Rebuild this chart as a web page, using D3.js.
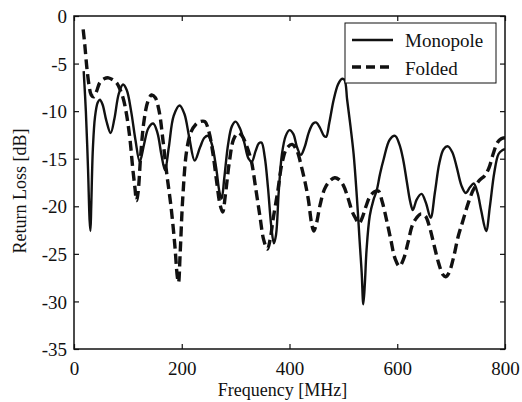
<!DOCTYPE html>
<html><head><meta charset="utf-8">
<script src="https://cdn.jsdelivr.net/npm/d3@7"></script>
<style>
body{margin:0;background:#fff;}
text{font-family:"Liberation Serif","Times New Roman",serif;fill:#111;}
</style></head>
<body><svg id="c" width="522" height="402"></svg>
<script>
const xTicks = [0, 200, 400, 600, 800];
const yTicks = [0, -5, -10, -15, -20, -25, -30, -35];
const seriesNames = ["Monopole", "Folded"];

const monoFreq = [18,22,26,29,30.5,32,35,39,44,48,53,60,68,75,83,91,98,106,114,122,130,138,147,155,162,169,176,185,196,205,214,224,234,242,249,256,264,270,274,279,286,293,300,308,316,324,330,337,343,348,354,360,366,371,375,380,386,393,400,407,414,421,428,436,444,450,457,464,468,474,482,490,497,502,507,513,519,525,530,534,537,540,543,549,556,562,568,575,586,596,604,611,618,624,629,636,645,653,662,670,678,686,694,702,710,719,727,735,742,749,756,765,772,780,788,795,800];
const monoRL = [-5.8,-10,-16,-21.5,-22.6,-20,-14,-10.6,-9.1,-8.8,-9.3,-11,-12.3,-10.8,-8.2,-7.2,-7.8,-10,-13,-15.3,-13.5,-11.8,-11.3,-12.3,-14.5,-16.2,-13.8,-10.5,-9.4,-10.3,-12.8,-15.2,-13.8,-12.8,-12.6,-13.5,-16,-18.5,-19.2,-17,-13.5,-11.6,-11.1,-11.8,-13.3,-15,-15.3,-14.2,-13.4,-13.3,-14.8,-18,-22,-23.9,-23,-18.5,-14.5,-12.6,-12.0,-12.4,-13.8,-14.6,-13.8,-12.2,-11.3,-11.2,-11.8,-12.6,-12.7,-11.2,-8.8,-7.2,-6.6,-6.7,-8.8,-11.5,-14.5,-19,-23.5,-27,-30.3,-28,-24.6,-21,-19.3,-18.3,-16.6,-15,-13.0,-12.6,-13.5,-15.1,-17.5,-19.5,-20.4,-19.3,-18.7,-19.6,-21.2,-18.5,-15.5,-14,-13.7,-14.3,-15.8,-17.8,-18.6,-18,-17.6,-18.6,-20.5,-22.6,-20,-16.5,-14.5,-14.1,-14];

const foldFreq = [17,20,24,28,32,37,42,48,56,64,72,80,86,92,98,104,109,113,116,119,124,130,137,144,151,158,165,172,180,187,192,194,197,202,209,217,226,234,243,251,258,265,271,276,281,288,296,304,312,320,329,337,345,352,359,364,370,378,386,395,405,414,422,429,435,441,445,450,457,465,474,484,492,500,509,516,522,529,535,542,549,557,565,572,580,588,596,604,612,620,628,636,644,652,660,668,677,685,690,696,704,713,722,731,741,752,762,770,778,786,793,800];
const foldRL = [-1.4,-3,-5.5,-7.3,-8.3,-8.5,-7.9,-7.0,-6.6,-6.5,-6.7,-7.1,-7.8,-8.8,-10.5,-13,-16,-18,-19.4,-18.5,-14.5,-11,-9,-8.3,-8.6,-10,-13,-16.5,-20,-24,-27.5,-28,-25,-19,-14.2,-12.2,-11.4,-11.1,-11.1,-12.3,-14.5,-17.5,-19.8,-20.6,-18.8,-15.5,-13,-12.3,-12.6,-13.6,-15.2,-18,-21,-23.5,-24.5,-23.5,-21.2,-18.5,-15.5,-13.9,-13.5,-14.2,-15.8,-17.5,-19.3,-21.8,-22.6,-21.8,-19.8,-18.2,-17.4,-17.0,-17.2,-17.8,-19.2,-20.5,-21.2,-21.8,-21.2,-20,-19.0,-18.5,-18.4,-19.5,-21.4,-23.5,-25.5,-26.3,-25.5,-23.8,-22,-21.2,-20.8,-21.0,-22.2,-24,-26,-27.2,-27.4,-27,-25.5,-23.2,-21.5,-19.8,-18.3,-17.3,-16.8,-16,-14.5,-13.3,-12.9,-12.8];

const L = 74, R = 505, T = 16, B = 349;
const svg = d3.select("#c");
const x = d3.scaleLinear().domain([0, 800]).range([L, R]);
const y = d3.scaleLinear().domain([-35, 0]).range([B, T]);

svg.append("defs").append("clipPath").attr("id","clip")
  .append("rect").attr("x",L).attr("y",T).attr("width",R-L).attr("height",B-T);

const line = d3.line().x(d=>x(d[0])).y(d=>y(d[1])).curve(d3.curveCatmullRom.alpha(0.5));
const mono = monoFreq.map((f,i)=>[f, monoRL[i]]);
const fold = foldFreq.map((f,i)=>[f, foldRL[i]]);

const g = svg.append("g").attr("clip-path","url(#clip)");
g.append("path").attr("d", line(fold)).attr("fill","none").attr("stroke","#111")
  .attr("stroke-width",3.4).attr("stroke-dasharray","10,5");
g.append("path").attr("d", line(mono)).attr("fill","none").attr("stroke","#111")
  .attr("stroke-width",2.4);

// axes
function style(sel){ sel.select(".domain").remove(); sel.selectAll("line").attr("stroke","#111").attr("stroke-width",1.2); sel.selectAll("text").style("font-size","19px").attr("fill","#111"); }
const ax = svg.append("g").attr("transform",`translate(0,${B})`)
  .call(d3.axisBottom(x).tickValues(xTicks).tickSize(-5).tickFormat(d3.format("d")));
style(ax); ax.selectAll("text").attr("y",26).attr("dy",0);
const axT = svg.append("g").attr("transform",`translate(0,${T})`)
  .call(d3.axisTop(x).tickValues(xTicks).tickSize(-5).tickFormat(""));
style(axT);
const ay = svg.append("g").attr("transform",`translate(${L},0)`)
  .call(d3.axisLeft(y).tickValues(yTicks).tickSize(-5).tickFormat(d=>d3.format("d")(d).replace("−","-")));
style(ay); ay.selectAll("text").attr("x",-7).attr("dy","0.35em");
const ayR = svg.append("g").attr("transform",`translate(${R},0)`)
  .call(d3.axisRight(y).tickValues(yTicks).tickSize(-5).tickFormat(""));
style(ayR);

svg.append("rect").attr("x",L).attr("y",T).attr("width",R-L).attr("height",B-T)
  .attr("fill","none").attr("stroke","#111").attr("stroke-width",1.5);

svg.append("text").attr("x",(L+R)/2-7).attr("y",396).attr("text-anchor","middle")
  .style("font-size","18px").text("Frequency [MHz]");
svg.append("text").attr("transform","translate(26,191) rotate(-90)").attr("text-anchor","middle")
  .style("font-size","18px").text("Return Loss [dB]");

// legend
const lg = svg.append("g");
lg.append("rect").attr("x",345).attr("y",23).attr("width",151).attr("height",60)
  .attr("fill","#fff").attr("stroke","#111").attr("stroke-width",1);
lg.append("line").attr("x1",352).attr("x2",393).attr("y1",40).attr("y2",40)
  .attr("stroke","#111").attr("stroke-width",2.4);
lg.append("line").attr("x1",352).attr("x2",393).attr("y1",67).attr("y2",67)
  .attr("stroke","#111").attr("stroke-width",3.4).attr("stroke-dasharray","9,5");
lg.append("text").attr("x",405).attr("y",47).style("font-size","19px").text(seriesNames[0]);
lg.append("text").attr("x",405).attr("y",75).style("font-size","19px").text(seriesNames[1]);
</script></body></html>
